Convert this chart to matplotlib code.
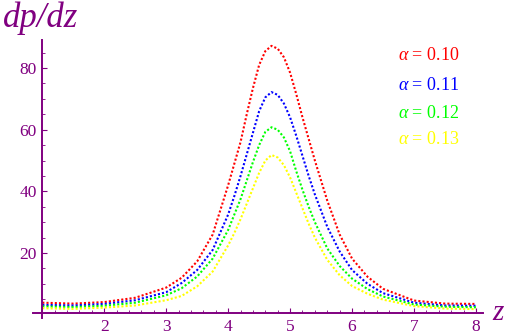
import matplotlib
matplotlib.use("Agg")
import matplotlib.pyplot as plt
from matplotlib.ticker import FixedLocator

plt.rcParams['mathtext.fontset'] = 'custom'
plt.rcParams['mathtext.rm'] = 'Liberation Serif'
plt.rcParams['mathtext.it'] = 'Liberation Serif:italic'

# data
z = [1.0, 1.5, 2.0, 2.5, 3.0, 3.25, 3.5, 3.75, 4.0, 4.1, 4.2, 4.3, 4.4, 4.5, 4.6,
     4.7, 4.8, 4.9, 5.0, 5.1, 5.2, 5.3, 5.4, 5.6, 5.8, 6.0, 6.25, 6.5, 7.0, 7.5, 8.0]
dp_010 = [3.9, 3.6, 4.1, 5.5, 8.8, 12.0, 17.3, 26.0, 42.0, 49.0, 56.0, 65.0, 73.5, 81.0, 85.5,
          87.2, 86.3, 83.5, 78.5, 71.5, 64.0, 57.0, 50.0, 37.0, 26.0, 18.2, 12.3, 8.4, 4.6, 3.6, 3.5]
dp_011 = [3.2, 3.0, 3.5, 4.7, 7.3, 10.3, 14.5, 21.0, 32.5, 38.5, 45.0, 52.0, 59.0, 66.0, 70.5,
          72.2, 71.3, 68.5, 64.0, 58.0, 51.5, 45.0, 39.0, 28.5, 20.5, 14.5, 10.0, 7.0, 3.9, 3.0, 2.9]
dp_012 = [2.7, 2.5, 2.9, 3.9, 6.3, 8.6, 12.4, 18.2, 27.5, 32.5, 37.5, 43.5, 49.5, 55.0, 59.3,
          60.8, 60.0, 57.5, 53.0, 46.5, 40.5, 35.0, 30.0, 21.5, 15.8, 11.7, 8.3, 5.9, 3.3, 2.6, 2.4]
dp_013 = [2.1, 1.9, 2.3, 3.0, 4.7, 6.1, 9.2, 14.0, 22.5, 26.5, 31.0, 36.0, 41.0, 46.0, 50.0,
          51.8, 51.0, 48.5, 44.5, 39.5, 34.5, 29.5, 25.0, 17.8, 12.8, 9.3, 6.8, 4.9, 2.8, 2.0, 1.8]
alphas = ["0.10", "0.11", "0.12", "0.13"]
colors = ["#ff0000", "#0000ff", "#00ff00", "#ffff00"]
xticks = [2, 3, 4, 5, 6, 7, 8]
yticks = [20, 40, 60, 80]

purple = "#800080"
fig = plt.figure(figsize=(5.05, 3.35), dpi=100)
ax = fig.add_axes([33 / 505, 1 - 317.8 / 335, 450.4 / 505, 278.1 / 335])

for ys, c in zip([dp_010, dp_011, dp_012, dp_013], colors):
    ax.plot(z, ys, color=c, lw=1.5, linestyle=(0, (1, 1)))

ax.set_xlim(0.85, 8.12)
ax.set_ylim(-1, 89.2)

for s in ['top', 'right']:
    ax.spines[s].set_visible(False)
ax.spines['left'].set_position(('data', 1.0))
ax.spines['bottom'].set_position(('data', 0.5))
for s in ['left', 'bottom']:
    ax.spines[s].set_color(purple)
    ax.spines[s].set_linewidth(1.4)

ax.xaxis.set_major_locator(FixedLocator(xticks))
ax.xaxis.set_minor_locator(FixedLocator([v / 5 for v in range(5, 41) if v % 5 != 0]))
ax.yaxis.set_major_locator(FixedLocator(yticks))
ax.yaxis.set_minor_locator(FixedLocator([v for v in range(5, 90, 5) if v % 20 != 0]))
ax.tick_params(which='both', direction='in', color=purple, labelcolor=purple)
ax.tick_params(which='major', length=3.5, width=0.8, labelsize=12.5, pad=4)
ax.tick_params(which='minor', length=2, width=0.6)
for lab in ax.get_xticklabels() + ax.get_yticklabels():
    lab.set_family('Liberation Serif')

fig.text(3 / 505, 1 - 27 / 335, "dp/dz", family='Liberation Serif', style='italic',
         fontsize=25, color=purple, va='baseline', ha='left')
fig.text(492 / 505, 1 - 320 / 335, "z", family='Liberation Serif', style='italic',
         fontsize=21, color=purple, va='baseline', ha='left')

for i, (a, c) in enumerate(zip(alphas, colors)):
    yc = [56, 85, 113, 140][i]
    fig.text(398 / 505, 1 - yc / 335, r"$\alpha$ = " + a, family='Liberation Serif',
             fontsize=13, color=c, va='center', ha='left')

fig.savefig("out.png", dpi=100)
